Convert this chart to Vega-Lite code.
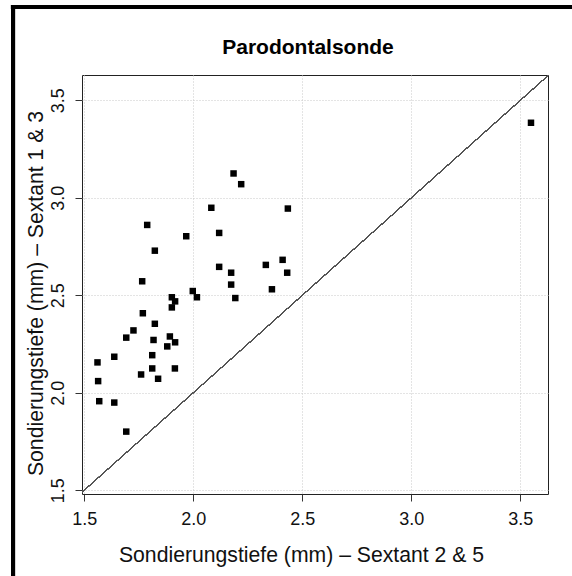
{
  "$schema": "https://vega.github.io/schema/vega-lite/v6.json",
  "autosize": "none",
  "width": 466,
  "height": 419,
  "padding": {"left": 82, "top": 75, "right": 24, "bottom": 82},
  "background": "white",
  "title": {
    "text": "Parodontalsonde",
    "font": "Liberation Sans",
    "fontSize": 21,
    "fontWeight": "bold",
    "color": "black",
    "anchor": "middle",
    "baseline": "alphabetic",
    "offset": -71.5,
    "dx": -7
  },
  "config": {
    "view": {"stroke": "#222222", "strokeWidth": 1},
    "axis": {
      "labelFont": "Liberation Sans",
      "titleFont": "Liberation Sans",
      "labelFontSize": 18,
      "titleFontSize": 21.2,
      "titleFontWeight": "normal",
      "labelColor": "#111111",
      "titleColor": "#111111",
      "domain": false,
      "tickColor": "#333333",
      "tickSize": 7,
      "tickWidth": 1,
      "grid": true,
      "gridColor": "#c8c8c8",
      "gridDash": [1, 2],
      "gridWidth": 1
    }
  },
  "data": {
    "values": [
      {"s25": 3.549, "s13": 3.385},
      {"s25": 2.185, "s13": 3.125},
      {"s25": 2.220, "s13": 3.070},
      {"s25": 2.083, "s13": 2.949},
      {"s25": 2.434, "s13": 2.945},
      {"s25": 1.789, "s13": 2.861},
      {"s25": 1.968, "s13": 2.803},
      {"s25": 2.119, "s13": 2.820},
      {"s25": 1.824, "s13": 2.729},
      {"s25": 1.766, "s13": 2.572},
      {"s25": 2.119, "s13": 2.646},
      {"s25": 2.333, "s13": 2.656},
      {"s25": 2.410, "s13": 2.682},
      {"s25": 2.174, "s13": 2.616},
      {"s25": 2.431, "s13": 2.616},
      {"s25": 2.174, "s13": 2.555},
      {"s25": 2.361, "s13": 2.531},
      {"s25": 1.998, "s13": 2.522},
      {"s25": 2.017, "s13": 2.490},
      {"s25": 2.193, "s13": 2.486},
      {"s25": 1.902, "s13": 2.490},
      {"s25": 1.917, "s13": 2.469},
      {"s25": 1.902, "s13": 2.438},
      {"s25": 1.769, "s13": 2.408},
      {"s25": 1.824, "s13": 2.354},
      {"s25": 1.726, "s13": 2.320},
      {"s25": 1.693, "s13": 2.283},
      {"s25": 1.818, "s13": 2.271},
      {"s25": 1.893, "s13": 2.289},
      {"s25": 1.917, "s13": 2.259},
      {"s25": 1.881, "s13": 2.238},
      {"s25": 1.638, "s13": 2.185},
      {"s25": 1.812, "s13": 2.193},
      {"s25": 1.561, "s13": 2.156},
      {"s25": 1.812, "s13": 2.125},
      {"s25": 1.916, "s13": 2.125},
      {"s25": 1.761, "s13": 2.094},
      {"s25": 1.839, "s13": 2.072},
      {"s25": 1.564, "s13": 2.060},
      {"s25": 1.569, "s13": 1.957},
      {"s25": 1.638, "s13": 1.950},
      {"s25": 1.693, "s13": 1.801}
    ]
  },
  "layer": [
    {
      "mark": {"type": "point", "shape": "square", "filled": true, "color": "black", "opacity": 1, "size": 42},
      "encoding": {
        "x": {
          "field": "s25",
          "type": "quantitative",
          "scale": {"domain": [1.49, 3.627], "nice": false, "zero": false},
          "axis": {
            "values": [1.5, 2.0, 2.5, 3.0, 3.5],
            "format": ".1f",
            "labelBaseline": "top",
            "labelPadding": 9,
            "title": "Sondierungstiefe (mm) – Sextant 2 & 5",
            "titleBaseline": "alphabetic",
            "titleX": 219,
            "titleY": 67.5
          }
        },
        "y": {
          "field": "s13",
          "type": "quantitative",
          "scale": {"domain": [1.481, 3.63], "nice": false, "zero": false},
          "axis": {
            "values": [1.5, 2.0, 2.5, 3.0, 3.5],
            "format": ".1f",
            "labelAngle": -90,
            "labelAlign": "center",
            "labelBaseline": "alphabetic",
            "labelPadding": 12,
            "title": "Sondierungstiefe (mm) – Sextant 1 & 3",
            "titleBaseline": "alphabetic",
            "titleX": -40,
            "titleY": 218
          }
        }
      }
    },
    {
      "mark": {"type": "rule", "color": "#555555", "strokeWidth": 1, "clip": true},
      "encoding": {
        "x": {"datum": 1.4, "type": "quantitative"},
        "y": {"datum": 1.4, "type": "quantitative"},
        "x2": {"datum": 3.7},
        "y2": {"datum": 3.7}
      }
    },
    {
      "mark": {"type": "rule", "color": "black", "strokeWidth": 4, "clip": false},
      "encoding": {
        "x": {"datum": 1.1736, "type": "quantitative"},
        "y": {"datum": 3.989, "type": "quantitative"},
        "y2": {"datum": 0.9}
      }
    },
    {
      "mark": {"type": "rule", "color": "black", "strokeWidth": 4, "clip": false},
      "encoding": {
        "y": {"datum": 3.9788, "type": "quantitative"},
        "x": {"datum": 1.1644, "type": "quantitative"},
        "x2": {"datum": 3.95}
      }
    }
  ]
}
